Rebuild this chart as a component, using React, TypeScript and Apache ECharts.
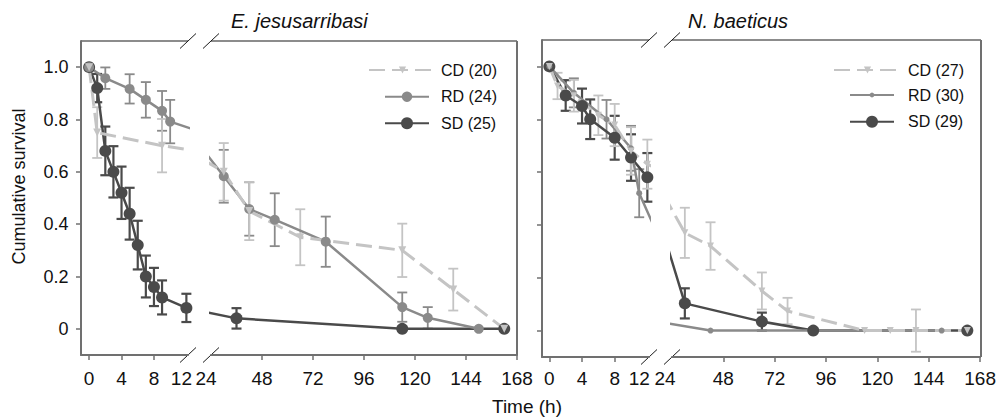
import React, { useEffect, useRef } from 'react';
import * as echarts from 'echarts';

const FONT = '"Liberation Sans", Arial, Helvetica, sans-serif';

// ---------- E. jesusarribasi (left panel) ----------
const ejCD_hours = [0, 1, 9, 30, 42, 66, 114, 138, 162];
const ejCD_surv = [1.0, 0.75, 0.7, 0.6, 0.45, 0.35, 0.3, 0.15, 0];
const ejCD_se = [0, 0.097, 0.102, 0.11, 0.111, 0.107, 0.102, 0.08, 0];

const ejRD_hours = [0, 2, 5, 7, 9, 10, 30, 42, 54, 78, 114, 126, 150];
const ejRD_surv = [1.0, 0.958, 0.917, 0.875, 0.833, 0.792, 0.583, 0.458, 0.417, 0.333, 0.083, 0.042, 0];
const ejRD_se = [0, 0.041, 0.056, 0.068, 0.076, 0.083, 0.101, 0.102, 0.101, 0.096, 0.056, 0.041, 0];

const ejSD_hours = [0, 1, 2, 3, 4, 5, 6, 7, 8, 9, 12, 36, 114, 162];
const ejSD_surv = [1.0, 0.92, 0.68, 0.6, 0.52, 0.44, 0.32, 0.2, 0.16, 0.12, 0.08, 0.04, 0, 0];
const ejSD_se = [0, 0.054, 0.093, 0.098, 0.1, 0.099, 0.093, 0.08, 0.073, 0.065, 0.054, 0.039, 0, 0];

// ---------- N. baeticus (right panel) ----------
const nbCD_hours = [0, 1, 3, 6, 8, 10, 12, 30, 42, 66, 78, 114, 126, 138, 162];
const nbCD_surv = [1.0, 0.926, 0.889, 0.815, 0.778, 0.68, 0.63, 0.37, 0.32, 0.15, 0.074, 0, 0, 0, 0];
const nbCD_se = [0, 0.05, 0.06, 0.075, 0.08, 0.09, 0.093, 0.095, 0.09, 0.07, 0.05, 0, 0, 0.08, 0];

const nbRD_hours = [0, 3, 7, 10, 11, 18, 42, 150];
const nbRD_surv = [1.0, 0.9, 0.8, 0.69, 0.52, 0.033, 0, 0];
const nbRD_se = [0, 0.055, 0.073, 0.085, 0.091, 0, 0, 0];

const nbSD_hours = [0, 2, 4, 5, 8, 10, 12, 30, 66, 90, 162];
const nbSD_surv = [1.0, 0.89, 0.85, 0.8, 0.73, 0.655, 0.58, 0.103, 0.034, 0, 0];
const nbSD_se = [0, 0.058, 0.066, 0.075, 0.083, 0.088, 0.092, 0.057, 0.034, 0, 0];

// ---------- Axis ticks / labels ----------
const yTickValues = [0, 0.2, 0.4, 0.6, 0.8, 1.0];
const xTicksEarly = [0, 4, 8];
const xLabelsEarly = [0, 4, 8, 12];
const xTicksLate = [48, 72, 96, 120, 144, 168];
const xLabelsLate = [24, 48, 72, 96, 120, 144, 168];

const STYLES: any = {
  CD: { color: '#c4c4c4', lineWidth: 3, lineType: [16, 7], symbol: 'triangle', rotate: 180, errWidth: 1.8 },
  RD: { color: '#8a8a8a', lineWidth: 2.5, lineType: 'solid', symbol: 'circle', rotate: 0, errWidth: 1.8 },
  SD: { color: '#4a4a4a', lineWidth: 2.5, lineType: 'solid', symbol: 'circle', rotate: 0, errWidth: 2.2 },
};

const AXIS_COLOR = '#707070';
const TEXT_COLOR = '#111';
const TICK_FONT = 19;

const panels = [
  {
    title: 'E. jesusarribasi', titleX: 231,
    top: 41, height: 314,
    aLeft: 81, aWidth: 107, aMin: -1, aMax: 12.2,
    bLeft: 211, bWidth: 306, bMin: 24, bMax: 168,
    showYLabels: true, labelMargin: 14, pad12: 10, pad24: 10,
    groups: [
      { key: 'SD', name: 'SD (25)', hours: ejSD_hours, surv: ejSD_surv, se: ejSD_se, size: 12 },
      { key: 'RD', name: 'RD (24)', hours: ejRD_hours, surv: ejRD_surv, se: ejRD_se, size: 10 },
      { key: 'CD', name: 'CD (20)', hours: ejCD_hours, surv: ejCD_surv, se: ejCD_se, size: 8 },
    ],
    legend: [
      { name: 'CD (20)', left: 368, cy: 70, w: 67, h: 9, pad: 0 },
      { name: 'RD (24)', left: 384, cy: 96.7, w: 44, h: 13, pad: 7 },
      { name: 'SD (25)', left: 384, cy: 123.3, w: 44, h: 15, pad: 7 },
    ],
  },
  {
    title: 'N. baeticus', titleX: 688,
    top: 40, height: 317,
    aLeft: 542, aWidth: 107, aMin: -0.9, aMax: 12.2,
    bLeft: 672, bWidth: 309, bMin: 24, bMax: 168,
    showYLabels: false, labelMargin: 11.5, pad12: 16, pad24: 14,
    groups: [
      { key: 'SD', name: 'SD (29)', hours: nbSD_hours, surv: nbSD_surv, se: nbSD_se, size: 12 },
      { key: 'RD', name: 'RD (30)', hours: nbRD_hours, surv: nbRD_surv, se: nbRD_se, size: 6 },
      { key: 'CD', name: 'CD (27)', hours: nbCD_hours, surv: nbCD_surv, se: nbCD_se, size: 7 },
    ],
    legend: [
      { name: 'CD (27)', left: 833, cy: 70, w: 67, h: 9, pad: 2 },
      { name: 'RD (30)', left: 849, cy: 95, w: 44, h: 6, pad: 9 },
      { name: 'SD (29)', left: 849, cy: 121.7, w: 44, h: 15, pad: 9 },
    ],
  },
];

function buildOption() {
  const grid: any[] = [];
  const xAxis: any[] = [];
  const yAxis: any[] = [];
  const series: any[] = [];
  const legend: any[] = [];
  const graphic: any[] = [];

  panels.forEach((p, pi) => {
    const segs = [
      { left: p.aLeft, width: p.aWidth, min: p.aMin, max: p.aMax, early: true },
      { left: p.bLeft, width: p.bWidth, min: p.bMin, max: p.bMax, early: false },
    ];
    segs.forEach((s, si) => {
      const gi = pi * 2 + si;
      grid.push({ left: s.left, top: p.top, width: s.width, height: p.height, containLabel: false });
      xAxis.push({
        type: 'value', gridIndex: gi, min: s.min, max: s.max,
        splitLine: { show: false },
        axisLine: { show: true, onZero: false, lineStyle: { color: AXIS_COLOR, width: 2 } },
        axisTick: { show: true, length: 5, customValues: s.early ? xTicksEarly : xTicksLate, lineStyle: { color: AXIS_COLOR, width: 1.5 } },
        axisLabel: {
          show: true,
          customValues: s.early ? xLabelsEarly : xLabelsLate,
          margin: p.labelMargin,
          color: TEXT_COLOR, fontSize: TICK_FONT, fontFamily: FONT,
          formatter: (v: number) => {
            if (v === 12) return '{a|12}';
            if (v === 24) return '{b|24}';
            return String(v);
          },
          rich: {
            a: { padding: [0, p.pad12, 0, 0], fontSize: TICK_FONT, fontFamily: FONT, color: TEXT_COLOR },
            b: { padding: [0, p.pad24, 0, 0], fontSize: TICK_FONT, fontFamily: FONT, color: TEXT_COLOR },
          },
        },
      });
      const showY = si === 0;
      yAxis.push({
        type: 'value', gridIndex: gi, min: -0.1, max: 1.1,
        show: showY,
        splitLine: { show: false },
        axisLine: { show: showY, onZero: false, lineStyle: { color: AXIS_COLOR, width: 2 } },
        axisTick: { show: showY, length: 5, customValues: yTickValues, lineStyle: { color: AXIS_COLOR, width: 1.5 } },
        axisLabel: {
          show: showY && p.showYLabels,
          customValues: yTickValues,
          margin: 12.5,
          color: TEXT_COLOR, fontSize: 18, fontFamily: FONT,
          formatter: (v: number) => (Math.abs(v) < 1e-9 ? '0' : v.toFixed(1)),
        },
      });

      // error bars (drawn beneath lines)
      p.groups.forEach((g) => {
        const st = STYLES[g.key];
        const data: number[][] = [];
        g.hours.forEach((h, i) => {
          if (g.se[i] > 0 && h >= s.min && h <= s.max) data.push([h, g.surv[i], g.se[i]]);
        });
        series.push({
          type: 'custom', name: g.name + ' SE', xAxisIndex: gi, yAxisIndex: gi,
          data, clip: false, silent: true, z: 2,
          encode: { x: 0, y: 1 },
          renderItem: (params: any, api: any) => {
            const x = api.value(0), y = api.value(1), e = api.value(2);
            const t = api.coord([x, y + e]);
            const b = api.coord([x, y - e]);
            const hw = 5;
            const style = { stroke: st.color, lineWidth: st.errWidth };
            return {
              type: 'group',
              children: [
                { type: 'line', shape: { x1: t[0], y1: t[1], x2: b[0], y2: b[1] }, style },
                { type: 'line', shape: { x1: t[0] - hw, y1: t[1], x2: t[0] + hw, y2: t[1] }, style },
                { type: 'line', shape: { x1: b[0] - hw, y1: b[1], x2: b[0] + hw, y2: b[1] }, style },
              ],
            };
          },
        });
      });
      // survival lines
      p.groups.forEach((g) => {
        const st = STYLES[g.key];
        series.push({
          type: 'line', name: g.name, xAxisIndex: gi, yAxisIndex: gi,
          data: g.hours.map((h, i) => [h, g.surv[i]]),
          clip: true, silent: true, z: 3,
          symbol: st.symbol, symbolSize: g.size, symbolRotate: st.rotate,
          showSymbol: true, showAllSymbol: true,
          lineStyle: { color: st.color, width: st.lineWidth, type: st.lineType },
          itemStyle: { color: st.color, borderWidth: 0 },
          emphasis: { disabled: true },
        });
      });
    });

    // legends (one per entry to allow different icon widths)
    p.legend.forEach((l) => {
      legend.push({
        data: [l.name], orient: 'vertical', left: l.left, top: l.cy - 8,
        padding: 0, itemGap: 0, itemWidth: l.w, itemHeight: l.h,
        selectedMode: false,
        textStyle: { fontSize: 16, lineHeight: 16, fontFamily: FONT, color: TEXT_COLOR, padding: [0, 0, 0, l.pad] },
      });
    });

    // frame: top border (broken), right border, break marks
    const aRight = p.aLeft + p.aWidth;
    const bRight = p.bLeft + p.bWidth;
    const yTop = p.top;
    const yBot = p.top + p.height;
    const frame = { stroke: '#1a1a1a', lineWidth: 1.2 };
    graphic.push({ type: 'line', silent: true, shape: { x1: p.aLeft, y1: yTop, x2: aRight, y2: yTop }, style: frame });
    graphic.push({ type: 'line', silent: true, shape: { x1: p.bLeft, y1: yTop, x2: bRight, y2: yTop }, style: frame });
    graphic.push({ type: 'line', silent: true, shape: { x1: bRight, y1: yTop, x2: bRight, y2: yBot }, style: { stroke: AXIS_COLOR, lineWidth: 2 } });
    [aRight, p.bLeft].forEach((cx) => {
      [yTop, yBot].forEach((cy) => {
        graphic.push({ type: 'line', silent: true, shape: { x1: cx - 8, y1: cy + 7.5, x2: cx + 8, y2: cy - 7.5 }, style: { stroke: '#1a1a1a', lineWidth: 1 } });
      });
    });
    graphic.push({
      type: 'text', silent: true, x: p.titleX, y: 21,
      style: { text: p.title, font: `italic 20px ${FONT}`, fill: TEXT_COLOR, textAlign: 'left', textVerticalAlign: 'middle' },
    });
  });

  graphic.push({
    type: 'text', silent: true, x: 18.5, y: 186.5, rotation: Math.PI / 2,
    style: { text: 'Cumulative survival', font: `18px ${FONT}`, fill: TEXT_COLOR, textAlign: 'center', textVerticalAlign: 'middle' },
  });
  graphic.push({
    type: 'text', silent: true, x: 527, y: 406,
    style: { text: 'Time (h)', font: `19px ${FONT}`, fill: TEXT_COLOR, textAlign: 'center', textVerticalAlign: 'middle' },
  });

  return {
    animation: false,
    backgroundColor: '#ffffff',
    textStyle: { fontFamily: FONT },
    grid, xAxis, yAxis, series, legend, graphic,
  };
}

export default function App() {
  const ref = useRef<HTMLDivElement>(null);
  useEffect(() => {
    const chart = echarts.init(ref.current as HTMLDivElement, null, { renderer: 'svg' });
    chart.setOption(buildOption() as any);
    return () => chart.dispose();
  }, []);
  return (
    <div
      ref={ref}
      style={{ position: 'fixed', left: 0, top: 0, width: 999, height: 417, background: '#fff' }}
    />
  );
}
